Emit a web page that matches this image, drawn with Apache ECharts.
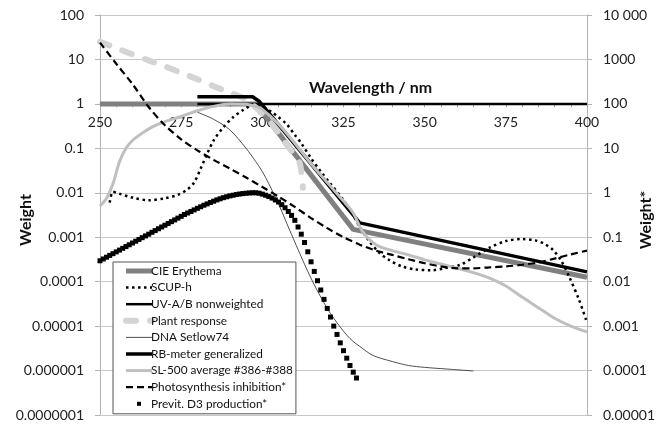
<!DOCTYPE html>
<html><head><meta charset="utf-8">
<script src="https://cdn.jsdelivr.net/npm/echarts@6/dist/echarts.min.js"></script>
<style>html,body{margin:0;padding:0;background:#fff}#c{width:665px;height:424px}</style>
</head><body><div id="c"></div>
<script>
// ---------- data ----------
var xTickValues = [250, 275, 300, 325, 350, 375, 400];
var leftTickLabels = ['0.0000001','0.000001','0.00001','0.0001','0.001','0.01','0.1','1','10','100'];
var rightTickLabels = ['0.00001','0.0001','0.001','0.01','0.1','1','10','100','1000','10 000'];

var cieWl = [250, 298, 328, 400];
var cieVal = [1, 1, 0.0015, 0.000126];

var scupWl = [253, 254, 256, 260, 265, 270, 274, 277, 279, 281, 283, 285, 288, 291, 294, 297, 299, 301, 303, 305, 307.5, 310, 312, 315, 318, 321, 324, 327, 330, 333, 336, 339, 343, 347, 352, 356, 361, 365, 370, 375, 380, 384, 387, 389.5, 392, 394.5, 397.5, 400];
var scupVal = [0.006, 0.0105, 0.0095, 0.0078, 0.0068, 0.0075, 0.009, 0.012, 0.017, 0.035, 0.075, 0.15, 0.3, 0.5, 0.72, 0.92, 0.92, 0.8, 0.65, 0.5, 0.35, 0.2, 0.13, 0.06, 0.03, 0.016, 0.0085, 0.0042, 0.0017, 0.0008, 0.00045, 0.00031, 0.00022, 0.00019, 0.00018, 0.0002, 0.00024, 0.00035, 0.00058, 0.00082, 0.00091, 0.00085, 0.0007, 0.00052, 0.0003, 0.00013, 0.00004, 0.000012];

var uvWl = [280, 400];
var uvVal = [1, 1];

var plantWl = [250, 255, 260, 265, 270, 275, 280, 285, 290, 295, 300, 303, 306, 309, 311.5, 312.5];
var plantVal = [25, 18, 13, 9.5, 7, 5, 3.6, 2.5, 1.8, 1.25, 0.6, 0.35, 0.17, 0.087, 0.047, 0.013];

var dnaWl = [280, 285, 290, 295, 298, 300, 302, 304, 306, 308, 310, 312, 314, 316, 318, 320, 322, 324, 326, 328, 330, 334, 340, 345, 350, 357, 365];
var dnaVal = [0.65, 0.45, 0.26, 0.1, 0.05, 0.03, 0.016, 0.008, 0.0038, 0.0017, 0.00078, 0.00036, 0.00017, 0.000085, 0.000045, 0.000025, 0.000015, 0.0000095, 0.0000063, 0.0000045, 0.0000035, 0.0000022, 0.0000016, 0.0000013, 0.00000118, 0.00000108, 0.00000098];

var rbWl = [280, 297, 299, 330, 400];
var rbVal = [1.45, 1.45, 1.15, 0.0021, 0.000166];

var slWl = [250, 252, 254, 256, 258, 260, 263, 266, 270, 275, 280, 285, 290, 295, 298, 300, 305, 310, 315, 320, 325, 328, 331, 335, 340, 345, 350, 355, 360, 365, 370, 375, 380, 385, 390, 395, 400];
var slVal = [0.005, 0.0075, 0.016, 0.05, 0.1, 0.15, 0.22, 0.3, 0.4, 0.52, 0.7, 0.88, 1.0, 0.98, 0.88, 0.75, 0.35, 0.13, 0.045, 0.017, 0.0065, 0.0035, 0.0013, 0.00068, 0.0005, 0.0004, 0.00031, 0.00025, 0.0002, 0.00016, 0.00012, 0.00008, 0.000045, 0.000026, 0.000015, 0.00001, 0.0000074];

var photoWl = [250, 255, 260, 265, 270, 275, 280, 285, 290, 295, 300, 305, 310, 315, 320, 325, 330, 335, 340, 345, 350, 355, 360, 365, 370, 375, 380, 385, 390, 395, 400];
var photoVal = [2400, 800, 280, 85, 33, 16, 9, 5.5, 3.5, 2.2, 1.35, 0.82, 0.48, 0.27, 0.16, 0.1, 0.068, 0.05, 0.04, 0.032, 0.026, 0.022, 0.02, 0.02, 0.021, 0.022, 0.024, 0.027, 0.033, 0.041, 0.05];

var d3Wl = [250,251,252,253,254,255,256,257,258,259,260,261,262,263,264,265,266,267,268,269,270,271,272,273,274,275,276,277,278,279,280,281,282,283,284,285,286,287,288,289,290,291,292,293,294,295,296,297,298,299,300,301,302,303,304,305,306,307,308,309,310,311,312,313,314,315,316,317,318,319,320,321,322,323,324,325,326,327,328,329];
var d3Val = [0.0295,0.0324,0.0355,0.039,0.0427,0.0468,0.0513,0.0562,0.0617,0.0676,0.0741,0.0813,0.0891,0.0977,0.107,0.117,0.129,0.141,0.155,0.17,0.186,0.204,0.224,0.245,0.269,0.295,0.324,0.351,0.38,0.412,0.447,0.484,0.525,0.562,0.603,0.646,0.692,0.733,0.776,0.813,0.851,0.881,0.912,0.938,0.959,0.977,0.991,1.0,1.0,0.977,0.933,0.881,0.822,0.76,0.69,0.62,0.54,0.46,0.38,0.31,0.24,0.17,0.117,0.076,0.047,0.028,0.017,0.0105,0.0065,0.004,0.0025,0.0016,0.001,0.00065,0.00042,0.00028,0.00019,0.00013,0.000092,0.000068];

function zip(a, b) { return a.map(function (v, i) { return [v, b[i]]; }); }
function expOf(v) { return Math.round(Math.log(v) / Math.LN10); }

var FONT = 'Lato, "Open Sans", sans-serif';
var chart = echarts.init(document.getElementById('c'), null, { renderer: 'canvas' });

// ---------- styles ----------
var seriesDefs = [
  { name: 'CIE Erythema', wl: cieWl, val: cieVal, ls: { color: '#808080', width: 5 } },
  { name: 'SCUP-h', wl: scupWl, val: scupVal, ls: { color: '#000', width: 2.5, type: [2.5, 3.5], cap: 'butt' }, smooth: 0.3 },
  { name: 'UV-A/B nonweighted', wl: uvWl, val: uvVal, ls: { color: '#000', width: 2.5 } },
  { name: 'Plant response', wl: plantWl, val: plantVal, ls: { color: '#d4d4d4', width: 6, type: [10, 14], cap: 'round' }, smooth: 0.3 },
  { name: 'DNA Setlow74', wl: dnaWl, val: dnaVal, ls: { color: '#222', width: 0.8 }, smooth: 0.3 },
  { name: 'RB-meter generalized', wl: rbWl, val: rbVal, ls: { color: '#000', width: 3.5 } },
  { name: 'SL-500 average #386-#388', wl: slWl, val: slVal, ls: { color: '#bfbfbf', width: 3 }, smooth: 0.3 },
  { name: 'Photosynthesis inhibition*', wl: photoWl, val: photoVal, ls: { color: '#000', width: 2.2, type: [7, 4] }, smooth: 0.3, axis: 1 }
];

var series = seriesDefs.map(function (d) {
  return {
    name: d.name, type: 'line', data: zip(d.wl, d.val), symbol: 'none',
    yAxisIndex: d.axis || 0, smooth: d.smooth || false,
    lineStyle: d.ls, itemStyle: { color: d.ls.color }, silent: true
  };
});
series.push({
  name: 'Previt. D3 production*', type: 'line', yAxisIndex: 1, data: zip(d3Wl, d3Val),
  symbol: 'rect', symbolSize: 5, showSymbol: true, showAllSymbol: true,
  lineStyle: { width: 0, opacity: 0 }, itemStyle: { color: '#000' }, silent: true
});

var legendData = seriesDefs.map(function (d) {
  return { name: d.name, itemStyle: { opacity: 0 }, lineStyle: { color: d.ls.color, width: d.ls.width, type: d.ls.type || 'solid', cap: d.ls.cap || 'butt', opacity: 1 } };
});
legendData.push({ name: 'Previt. D3 production*', itemStyle: { color: '#000', opacity: 1 }, lineStyle: { opacity: 0, width: 0 } });

var option = {
  animation: false,
  textStyle: { fontFamily: FONT },
  grid: { left: 100, right: 78, top: 15, bottom: 9 },
  xAxis: {
    type: 'value', min: 250, max: 400, interval: 25, position: 'top', offset: -88.3,
    axisLine: { show: true, lineStyle: { color: '#a6a6a6', width: 1 } },
    axisTick: { show: true, inside: true, length: 4, lineStyle: { color: '#a6a6a6' } },
    minorTick: { show: true, splitNumber: 5, length: 4, lineStyle: { color: '#a6a6a6' } },
    axisLabel: { inside: true, margin: 12, fontSize: 14, color: '#222', fontFamily: FONT,
      formatter: function (v) { return xTickValues.indexOf(v) >= 0 ? String(v) : ''; } },
    splitLine: { show: false }
  },
  yAxis: [{
    type: 'log', logBase: 10, min: 1e-7, max: 100, interval: 1,
    axisLine: { show: true, lineStyle: { color: '#b3b3b3' } },
    axisTick: { show: true, length: 5, lineStyle: { color: '#b3b3b3' } },
    axisLabel: { margin: 16, fontSize: 14, color: '#222', fontFamily: FONT,
      formatter: function (v) { return leftTickLabels[expOf(v) + 7]; } },
    splitLine: { show: true, lineStyle: { color: '#c8c8c8', width: 1 } },
    minorTick: { show: false }, minorSplitLine: { show: false }
  }, {
    type: 'log', logBase: 10, min: 1e-5, max: 1e4, interval: 1, position: 'right',
    axisLine: { show: true, lineStyle: { color: '#b3b3b3' } },
    axisTick: { show: true, length: 5, lineStyle: { color: '#b3b3b3' } },
    axisLabel: { margin: 16, fontSize: 14, color: '#222', fontFamily: FONT,
      formatter: function (v) { return rightTickLabels[expOf(v) + 5]; } },
    splitLine: { show: false }
  }],
  legend: {
    orient: 'vertical', left: 113, top: 262,
    backgroundColor: '#fff', borderColor: '#555', borderWidth: 1,
    padding: [2, 3, 3, 10], itemGap: 2.6, itemWidth: 26, itemHeight: 5,
    textStyle: { fontSize: 11.8, lineHeight: 14, color: '#111', fontFamily: FONT, padding: [0, 0, 0, -6] },
    data: legendData
  },
  graphic: [
    { type: 'text', x: 309, y: 88, style: { text: 'Wavelength / nm', fontSize: 16, fontWeight: 'bold', fontFamily: FONT, fill: '#111', align: 'left', verticalAlign: 'middle' } },
    { type: 'text', x: 26, y: 220, rotation: Math.PI / 2, style: { text: 'Weight', fontSize: 16, fontWeight: 'bold', fontFamily: FONT, fill: '#111', align: 'center', verticalAlign: 'middle' } },
    { type: 'text', x: 646, y: 220, rotation: Math.PI / 2, style: { text: 'Weight*', fontSize: 16, fontWeight: 'bold', fontFamily: FONT, fill: '#111', align: 'center', verticalAlign: 'middle' } }
  ],
  series: series
};
chart.setOption(option);
</script></body></html>
